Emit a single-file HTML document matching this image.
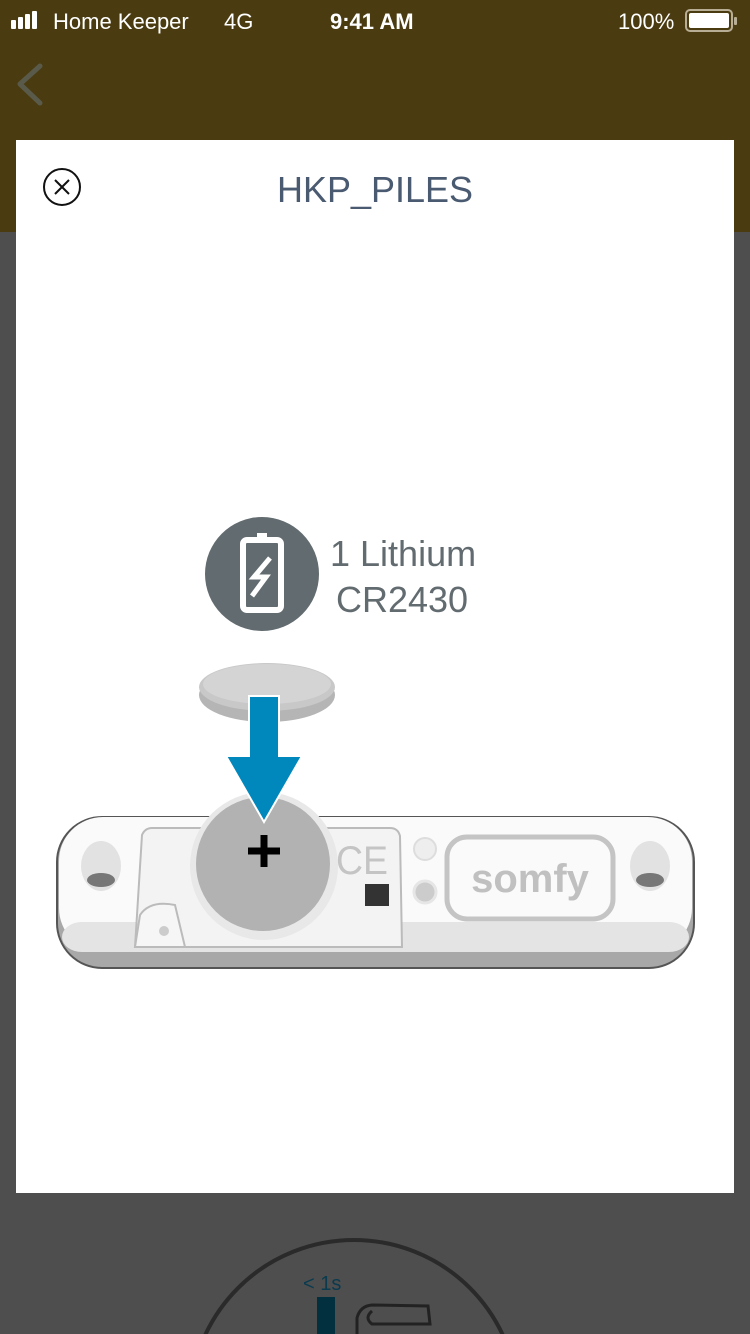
<!DOCTYPE html>
<html><head><meta charset="utf-8"><style>
html,body{margin:0;padding:0;width:750px;height:1334px;overflow:hidden;background:#4e4e4e;font-family:"Liberation Sans",sans-serif}
svg{display:block}
</style></head><body>
<svg width="750" height="1334" viewBox="0 0 750 1334" xmlns="http://www.w3.org/2000/svg" style="position:absolute;left:0;top:0;overflow:hidden">
<rect x="0" y="0" width="750" height="232" fill="#4a3b10"/>
<rect x="0" y="232" width="750" height="1102" fill="#4e4e4e"/>
<rect x="11" y="20" width="5" height="9" rx="1" fill="#fff"/>
<rect x="18" y="17" width="5" height="12" rx="1" fill="#fff"/>
<rect x="25" y="14" width="5" height="15" rx="1" fill="#fff"/>
<rect x="32" y="11" width="5" height="18" rx="1" fill="#fff"/>
<text x="53" y="29" font-size="22" fill="#fff">Home Keeper</text>
<text x="224" y="29" font-size="22" fill="#fff">4G</text>
<text x="330" y="29" font-size="22" font-weight="bold" fill="#fff">9:41 AM</text>
<text x="618" y="29" font-size="22" fill="#fff">100%</text>
<rect x="686" y="10" width="46" height="21" rx="4" fill="none" stroke="#b8ad95" stroke-width="2"/>
<rect x="689" y="13" width="40" height="15" rx="2" fill="#fff"/>
<rect x="734" y="17" width="3" height="8" rx="1" fill="#b8ad95"/>
<path d="M40 66 L20 84 L40 103" fill="none" stroke="#5a5a4a" stroke-width="5" stroke-linecap="round" stroke-linejoin="round"/>
<rect x="16" y="140" width="718" height="1053" fill="#fff"/>
<circle cx="62" cy="187" r="18" fill="none" stroke="#111" stroke-width="2"/>
<path d="M55 180 L69 194 M69 180 L55 194" stroke="#111" stroke-width="2"/>
<text x="375" y="202" font-size="36" fill="#4a5a70" text-anchor="middle" textLength="196" lengthAdjust="spacingAndGlyphs">HKP_PILES</text>
<circle cx="262" cy="574" r="57" fill="#626b6f"/>
<rect x="243" y="540" width="38" height="70" rx="4" fill="none" stroke="#fff" stroke-width="6"/>
<rect x="257" y="533" width="10" height="8" fill="#fff"/>
<path d="M270 558 L254 577 L266 577 L252 596" fill="none" stroke="#fff" stroke-width="5"/>
<text x="330" y="566" font-size="36" fill="#626b6f">1 Lithium</text>
<text x="336" y="612" font-size="36" fill="#626b6f">CR2430</text>
<ellipse cx="267" cy="695" rx="68" ry="27" fill="#b5b5b5"/>
<ellipse cx="267" cy="687" rx="68" ry="24" fill="#c8c8c8"/>
<ellipse cx="267" cy="684" rx="64" ry="20" fill="#d4d4d4"/>
<rect x="57" y="817" width="637" height="151" rx="45" fill="#a8a8a8" stroke="#555" stroke-width="2"/>
<rect x="59" y="817" width="633" height="135" rx="44" fill="#fafafa"/>
<rect x="62" y="922" width="627" height="30" rx="20" fill="#e4e4e4"/>
<path d="M135 947 L142 835 Q145 828 152 828 L390 828 Q398 828 400 836 L402 947 Z" fill="#f3f3f3" stroke="#bbb" stroke-width="2"/>
<path d="M135 947 L140 915 Q150 900 175 905 L185 947 Z" fill="#f6f6f6" stroke="#bbb" stroke-width="2"/>
<circle cx="164" cy="931" r="5" fill="#ccc"/>
<circle cx="264" cy="866" r="74" fill="#e8e8e8"/>
<circle cx="263" cy="864" r="67" fill="#b2b2b2"/>
<path d="M248 851 H280 M264 835 V867" stroke="#000" stroke-width="7"/>
<text x="336" y="874" font-size="40" fill="#c4c4c4" textLength="52" lengthAdjust="spacingAndGlyphs">CE</text>
<rect x="365" y="884" width="24" height="22" fill="#333"/>
<circle cx="425" cy="849" r="11" fill="#eee" stroke="#ddd" stroke-width="2"/>
<circle cx="425" cy="892" r="11" fill="#ccc" stroke="#e6e6e6" stroke-width="3"/>
<rect x="447" y="837" width="166" height="82" rx="20" fill="none" stroke="#c4c4c4" stroke-width="5"/>
<text x="530" y="892" font-size="40" font-weight="bold" fill="#c0c0c0" text-anchor="middle">somfy</text>
<ellipse cx="101" cy="866" rx="20" ry="25" fill="#e2e2e2"/>
<ellipse cx="101" cy="880" rx="14" ry="7" fill="#777"/>
<ellipse cx="650" cy="866" rx="20" ry="25" fill="#e2e2e2"/>
<ellipse cx="650" cy="880" rx="14" ry="7" fill="#777"/>
<polygon points="249,696 279,696 279,756 302,756 264,822 226,756 249,756" fill="#0088bd" stroke="#fff" stroke-width="2"/>
<circle cx="354" cy="1404" r="164" fill="none" stroke="#2a2a2a" stroke-width="4"/>
<text x="303" y="1290" font-size="20" fill="#0a3a4e">&lt; 1s</text>
<rect x="317" y="1297" width="18" height="37" fill="#03303e"/>
<path d="M357 1334 L357 1318 Q360 1306 372 1305 L428 1306 L430 1324 L372 1324 Q364 1318 372 1311" fill="none" stroke="#222" stroke-width="3"/>
</svg>
</body></html>
